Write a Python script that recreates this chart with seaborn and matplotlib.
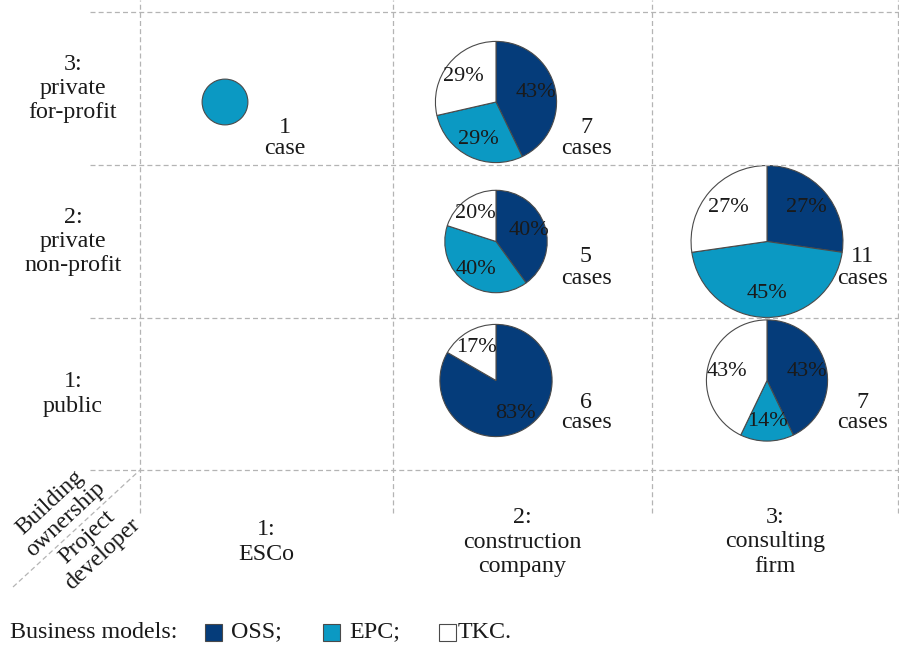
import numpy as np
import matplotlib
matplotlib.use("Agg")
import matplotlib.pyplot as plt
from matplotlib.patches import Rectangle
import seaborn as sns

# ---- data -------------------------------------------------------------
MODELS = ["OSS", "EPC", "TKC"]
DEVELOPERS = ["1:\nESCo", "2:\nconstruction\ncompany", "3:\nconsulting\nfirm"]
OWNERSHIP = ["1:\npublic", "2:\nprivate\nnon-profit", "3:\nprivate\nfor-profit"]

# (developer index, ownership index) -> number of cases per business model
cell_dev = [1, 2, 2, 2, 3, 3]
cell_own = [3, 3, 2, 1, 2, 1]
oss_cases = [0, 3, 2, 5, 3, 3]
epc_cases = [1, 2, 2, 0, 5, 1]
tkc_cases = [0, 2, 1, 1, 3, 3]

# ---- style ------------------------------------------------------------
sns.set_theme(style="white")
plt.rcParams["font.family"] = ["Liberation Serif", "DejaVu Serif"]
plt.rcParams["text.color"] = "#1a1a1a"

PALETTE = ["#053c7a", "#0b99c3", "#ffffff"]
EDGE = "#4a4a4a"
GRID = "#b4b4b4"
FS = 17.3
FS_PCT = 16

W, H = 899, 651
fig = plt.figure(figsize=(W / 100, H / 100), dpi=100)
ax = fig.add_axes([0, 0, 1, 1])


def py(v):
    """Convert a top-down pixel row to the upward data axis."""
    return H - v


# cell grid (pixel layout)
X_EDGES = [140, 393, 652, 898]
Y_EDGES = [470, 318, 165, 12]          # bottom of row 1 up to top of row 3
col_mid = [(X_EDGES[i] + X_EDGES[i + 1]) / 2 for i in range(3)]
row_mid = [py((Y_EDGES[i] + Y_EDGES[i + 1]) / 2) for i in range(3)]

PIE_DX = [-41.5, -26.5, -8]            # pie shift inside each developer column
PIE_DY = [13.5, 0, -13.5]              # pie shift inside each ownership row (up)
NOTE_X = [285, 586, 862]
NOTE_DY = [-18.5, -26, -49.5]          # case-count note relative to row centre
R_UNIT = 22.9                          # radius for a single case (area ~ cases)

# dashed grid
ax.hlines([py(y) for y in Y_EDGES], 90, W, colors=GRID, linestyles=(0, (4, 2.5)), lw=0.9)
ax.vlines(X_EDGES, py(513), py(0), colors=GRID, linestyles=(0, (4, 2.5)), lw=0.9)
ax.plot([13, X_EDGES[0]], [py(587), py(Y_EDGES[0])], color=GRID, ls=(0, (4, 2.5)), lw=0.9)

# pies
for d, o, a, b, c in zip(cell_dev, cell_own, oss_cases, epc_cases, tkc_cases):
    counts = np.array([a, b, c])
    keep = counts > 0
    n = counts.sum()
    cx = col_mid[d - 1] + PIE_DX[d - 1]
    cy = row_mid[o - 1] + PIE_DY[o - 1]
    ax.pie(counts[keep], colors=[PALETTE[i] for i in range(3) if keep[i]],
           startangle=90, counterclock=False, center=(cx, cy),
           radius=R_UNIT * np.sqrt(n), frame=True,
           wedgeprops=dict(edgecolor=EDGE, linewidth=0.8),
           autopct=lambda p: "" if p > 99.9 else f"{p:.0f}%",
           pctdistance=0.68,
           textprops=dict(fontsize=FS_PCT, color="#1a1a1a"))
    unit = "case" if n == 1 else "cases"
    ax.text(NOTE_X[d - 1], row_mid[o - 1] + NOTE_DY[o - 1], f"{n}\n{unit}",
            ha="center", va="center", fontsize=FS, linespacing=1.0)

# row and column headings
for i, lab in enumerate(OWNERSHIP):
    ax.text(73, row_mid[i], lab, ha="center", va="center", fontsize=FS, linespacing=1.2)
for i, lab in enumerate(DEVELOPERS):
    ax.text(col_mid[i], py(542), lab, ha="center", va="center", fontsize=FS, linespacing=1.2)

# corner headings along the diagonal
ax.text(58, py(511), "Building\nownership", rotation=43, rotation_mode="anchor",
        ha="center", va="center", fontsize=FS, linespacing=1.15)
ax.text(95, py(546), "Project\ndeveloper", rotation=43, rotation_mode="anchor",
        ha="center", va="center", fontsize=FS, linespacing=1.15)

# key
ax.text(10, py(632), "Business models:", ha="left", va="center", fontsize=FS)
key_x = [205, 323, 439]
key_end = [";", ";", "."]
for i, m in enumerate(MODELS):
    ax.add_patch(Rectangle((key_x[i], py(641)), 17, 17, facecolor=PALETTE[i],
                           edgecolor=EDGE, linewidth=0.8))
    ax.text(key_x[i] + 26 if i < 2 else key_x[i] + 19, py(632), m + key_end[i],
            ha="left", va="center", fontsize=FS)

ax.set_xlim(0, W)
ax.set_ylim(0, H)
ax.set_aspect("equal")
ax.set_axis_off()

fig.savefig("out.png", dpi=100, facecolor="white")
